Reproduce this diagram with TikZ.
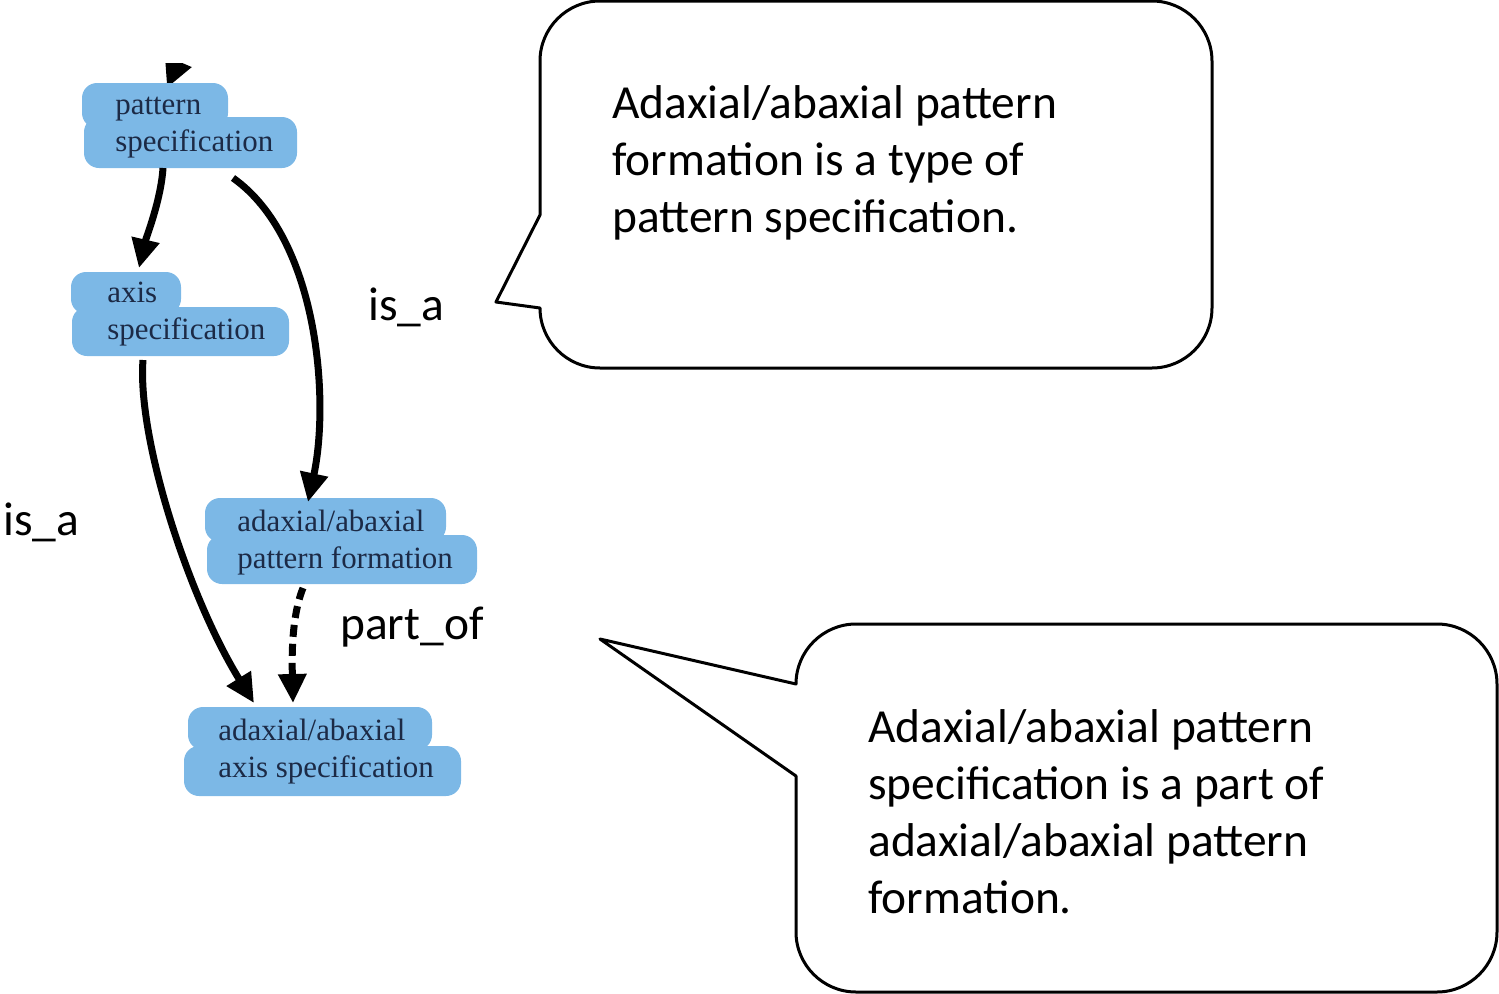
\documentclass[tikz,border=0pt]{standalone}
\usepackage{fontspec}
\usetikzlibrary{arrows.meta}
\newfontfamily\callfont{Carlito}
\newfontfamily\termfont{Liberation Serif}
\definecolor{blobblue}{RGB}{124,184,230}
\definecolor{termnavy}{RGB}{28,42,70}
\tikzset{
  blob/.style={fill=blobblue, rounded corners=0.3cm},
  % multi-line nodes: the base anchor sits on the last line
  term/.style={font=\termfont\fontsize{17.6}{21}\selectfont, text=termnavy,
               align=left, inner sep=0pt, anchor=base west},
  calltext/.style={font=\callfont\fontsize{27}{32.3}\selectfont,
               align=left, inner sep=0pt, anchor=base west},
  relation/.style={font=\callfont\fontsize{27}{32.3}\selectfont,
               inner sep=0pt, anchor=base west},
  bubble/.style={draw=black, line width=0.06cm, line join=round},
  link/.style={line width=0.14cm, -{Triangle[length=0.58cm,width=0.54cm]}},
  partlink/.style={link, dash pattern=on 0.24cm off 0.14cm}
}
\begin{document}
\begin{tikzpicture}[x=0.02cm, y=-0.02cm]
\useasboundingbox (0,0) rectangle (1499,994);

% term blobs
\fill[blob] (82,83) rectangle (228,128);
\fill[blob] (84,117) rectangle (297,168);
\fill[blob] (71,272) rectangle (181,314);
\fill[blob] (72,307) rectangle (289,356);
\fill[blob] (205,498) rectangle (446,542);
\fill[blob] (207,535) rectangle (477,584);
\fill[blob] (188,707) rectangle (432,750);
\fill[blob] (184,746) rectangle (461,796);

% terms
\node[term] (ps)  at (115,151) {pattern\\specification};
\node[term] (as)  at (107,339) {axis\\specification};
\node[term] (pf)  at (237,568) {adaxial/abaxial\\pattern formation};
\node[term] (aas) at (218,777) {adaxial/abaxial\\axis specification};

% link end points
\coordinate (above) at (196,20);
\coordinate (psIn)  at (167,88);
\coordinate (psOutL) at (163,168);
\coordinate (psOutR) at (233,178);
\coordinate (asIn)  at (139,268);
\coordinate (asOut) at (143,360);
\coordinate (pfIn)  at (308,502);
\coordinate (pfOut) at (303,588);
\coordinate (aasInL) at (254,703);
\coordinate (aasInR) at (293,703);

% incoming link from above, cut at the top of the figure
\begin{scope}
  \clip (0,63) rectangle (400,82);
  \draw[link] (above) -- (psIn);
\end{scope}

% links
\draw[link] (psOutL) .. controls (161,200) and (146,238) .. (asIn);
\draw[link] (psOutR) .. controls (318,238) and (330,400) .. (pfIn);
\draw[link] (asOut) .. controls (137,440) and (190,600) .. (aasInL);
\draw[partlink] (pfOut) .. controls (291,618) and (292,660) .. (aasInR);

% relation labels
\node[relation] (isa1) at (368,320) {is\_a};
\node[relation] (isa2) at (3,535) {is\_a};
\node[relation] (partof) at (340,639) {part\_of};

% callouts
\coordinate (tip1) at (496,302);
\coordinate (tip2) at (600,639);
\draw[bubble] (540,215) -- (540,61) .. controls (540,28) and (567,1) .. (600,1)
  -- (1152,1) .. controls (1185,1) and (1212,28) .. (1212,61)
  -- (1212,308) .. controls (1212,341) and (1185,368) .. (1152,368)
  -- (600,368) .. controls (567,368) and (540,341) .. (540,308)
  -- (tip1) -- cycle;
\draw[bubble] (796,776) -- (796,932) .. controls (796,965) and (823,992) .. (856,992)
  -- (1437,992) .. controls (1470,992) and (1497,965) .. (1497,932)
  -- (1497,684) .. controls (1497,651) and (1470,624) .. (1437,624)
  -- (856,624) .. controls (823,624) and (796,651) .. (796,684)
  -- (tip2) -- cycle;

\node[calltext] (note1) at (612,232)
  {Adaxial/abaxial pattern\\formation is a type of\\pattern specification.};
\node[calltext] (note2) at (868,913)
  {Adaxial/abaxial pattern\\specification is a part of\\adaxial/abaxial pattern\\formation.};
\end{tikzpicture}
\end{document}
